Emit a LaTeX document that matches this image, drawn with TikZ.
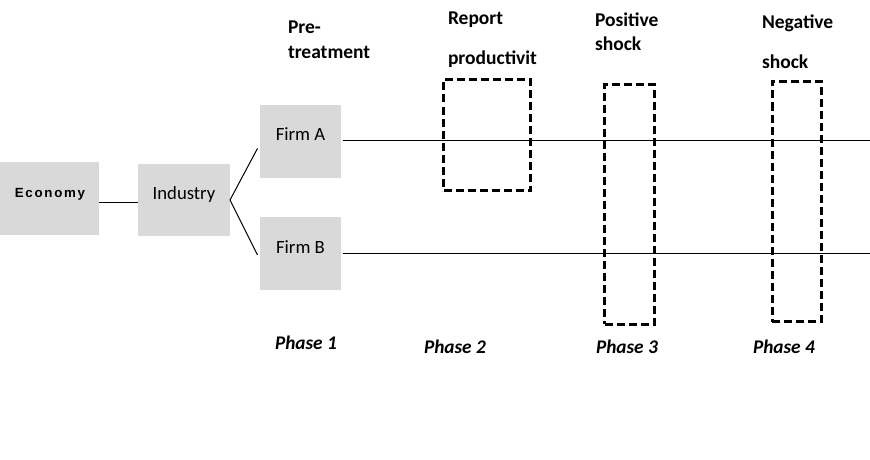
\documentclass[tikz,border=0pt]{standalone}
\usepackage{fontspec}
\setmainfont{Carlito}
\newfontfamily\econfont[LetterSpace=13]{Liberation Sans}
\begin{document}
\begin{tikzpicture}[x=1pt,y=-1pt,
  graybox/.style={fill=boxgray, draw=none, inner sep=0pt, outer sep=0pt},
  lbl/.style={inner sep=0pt, outer sep=0pt, font=\fontsize{18.7}{22}\selectfont, anchor=base},
  head/.style={inner sep=0pt, outer sep=0pt, font=\fontsize{19.5}{23}\selectfont\bfseries, anchor=base west},
  phase/.style={inner sep=0pt, outer sep=0pt, font=\fontsize{19.3}{23}\selectfont\bfseries\itshape, anchor=base west},
  dbox/.style={draw=black, line width=3pt, dash pattern=on 8pt off 4pt, inner sep=0pt, outer sep=0pt},
  thin/.style={draw=black, line width=1pt}]
\definecolor{boxgray}{HTML}{D9D9D9}
\useasboundingbox (0,0) rectangle (870,460);
% gray boxes
\node[graybox, minimum width=99, minimum height=73] (econ) at (49.5,198.5) {};
\node[graybox, minimum width=92, minimum height=72] (ind) at (184,200) {};
\node[graybox, minimum width=81, minimum height=73] (firmA) at (300,141.4) {};
\node[graybox, minimum width=81, minimum height=73] (firmB) at (300,253.4) {};
% box texts
\node[inner sep=0pt, anchor=base, font=\econfont\fontsize{13.3}{15}\selectfont\bfseries] (econT) at (50,197) {Economy};
\node[lbl] (indT) at (184,199) {Industry};
\node[lbl] (firmAT) at (300.5,140) {Firm A};
\node[lbl] (firmBT) at (300.5,253) {Firm B};
% connectors
\draw[thin] (econ.east |- 0,202) -- (ind.west |- 0,202);
\draw[thin] (ind.east) -- ([xshift=-2pt,yshift=-7pt]firmA.west);
\draw[thin] (ind.east) -- ([xshift=-2pt,yshift=-1.5pt]firmB.west);
\coordinate (endA) at (870,140);
\coordinate (endB) at (870,253);
\draw[thin] ([xshift=2pt]firmA.east |- endA) -- (endA);
\draw[thin] ([xshift=2pt]firmB.east |- endB) -- (endB);
% dashed boxes
\node[dbox, minimum width=87, minimum height=111] (report) at (487,135) {};
\node[dbox, minimum width=49.5, minimum height=240] (pos) at (629.25,204.2) {};
\node[dbox, minimum width=49.5, minimum height=240] (neg) at (797,201.5) {};
% headings
\node[head] (pre1) at (288,34) {Pre-};
\node[head] (pre2) at (288,59) {treatment};
\node[head] (rep1) at (448,25) {Report};
\node[head] (rep2) at (448,65) {productivit};
\node[head] (pos1) at (595,27) {Positive};
\node[head] (pos2) at (595,51) {shock};
\node[head] (neg1) at (762,29) {Negative};
\node[head] (neg2) at (762,68) {shock};
% phases
\node[phase] (ph1) at (275,349) {Phase 1};
\node[phase] (ph2) at (424,353) {Phase 2};
\node[phase] (ph3) at (596,353) {Phase 3};
\node[phase] (ph4) at (753,353) {Phase 4};
\end{tikzpicture}
\end{document}
